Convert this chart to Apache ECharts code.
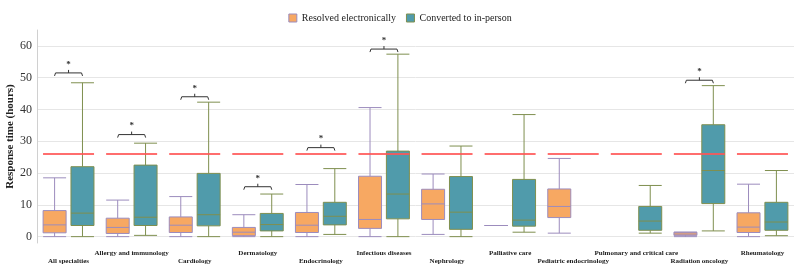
<!DOCTYPE html>
<html>
<head>
<meta charset="utf-8">
<script src="https://cdn.jsdelivr.net/npm/echarts@6/dist/echarts.min.js"></script>
<style>
  html, body { margin: 0; padding: 0; background: #fff; }
  #chart { width: 800px; height: 275px; }
</style>
</head>
<body>
<div id="chart"></div>
<script>
const categories = [
  "All specialties", "Allergy and immunology", "Cardiology", "Dermatology",
  "Endocrinology", "Infectious diseases", "Nephrology", "Palliative care",
  "Pediatric endocrinology", "Pulmonary and critical care", "Radiation oncology", "Rheumatology"
];

// [min, Q1, median, Q3, max] in hours
const resolvedElectronically = [
  [0, 1.2, 3.7, 8.2, 18.5],
  [0, 1.0, 2.9, 5.8, 11.5],
  [0, 1.3, 3.6, 6.2, 12.6],
  [0, 0.3, 1.4, 2.9, 6.9],
  [0, 1.3, 3.6, 7.6, 16.4],
  [0, 2.6, 5.4, 19.0, 40.6],
  [0.7, 5.4, 10.3, 14.9, 19.7],
  [3.5, 3.5, 3.5, 3.5, 3.5],
  [1.1, 6.0, 9.5, 15.0, 24.6],
  null,
  [0, 0.4, 0.8, 1.4, 1.4],
  [0, 1.3, 3.0, 7.5, 16.5]
];

const convertedInPerson = [
  [0, 3.5, 7.4, 22.0, 48.4],
  [0.4, 3.5, 6.1, 22.5, 29.4],
  [0, 3.4, 6.9, 19.9, 42.3],
  [0, 1.8, 3.8, 7.3, 13.4],
  [0.7, 3.7, 6.4, 10.8, 21.4],
  [0, 5.6, 13.4, 26.9, 57.4],
  [0, 2.3, 7.7, 18.9, 28.5],
  [1.4, 3.3, 5.2, 18.0, 38.4],
  null,
  [1.1, 2.0, 4.9, 9.5, 16.1],
  [1.8, 10.4, 20.8, 35.2, 47.5],
  [0.3, 2.0, 4.6, 10.8, 20.8]
];

const benchmarkHours = 26;

// categories with a significant difference, and height of the bracket
const sigCategories = [0, 1, 2, 3, 4, 5, 10];
const sigBracketY = [51.5, 32.1, 44, 15.7, 28, 59, 49.2];

const serif = "'Liberation Serif', 'Times New Roman', serif";

const orangeStyle = { color: "#f7a862", borderColor: "#9c8cbd", borderWidth: 1 };
const tealStyle = { color: "#509bab", borderColor: "#7f8f4f", borderWidth: 1 };

const toBox = (arr) => arr.map(d => d ? d : ["-", "-", "-", "-", "-"]);

const chart = echarts.init(document.getElementById("chart"), null, { renderer: "canvas" });

chart.setOption({
  animation: false,
  backgroundColor: "#ffffff",
  legend: {
    top: 8,
    left: "center",
    itemWidth: 8,
    itemHeight: 8,
    itemGap: 10,
    icon: "rect",
    textStyle: { fontFamily: serif, fontSize: 10, color: "#222" },
    data: [
      { name: "Resolved electronically", itemStyle: orangeStyle },
      { name: "Converted to in-person", itemStyle: tealStyle }
    ]
  },
  grid: { left: 37, right: 6, top: 30, bottom: 32, outerBoundsMode: "none", containLabel: false },
  xAxis: {
    type: "category",
    data: categories,
    axisLine: { show: false },
    axisTick: { show: false },
    splitLine: { show: false },
    axisLabel: {
      interval: 0,
      margin: 7,
      formatter: (val, idx) => (idx % 2 === 0 ? "{low|" + val + "}" : "{high|" + val + "}"),
      rich: {
        high: { fontFamily: serif, fontSize: 7, fontWeight: "bold", color: "#222" },
        low: { fontFamily: serif, fontSize: 7, fontWeight: "bold", color: "#222", padding: [8, 0, 0, 0] }
      }
    }
  },
  yAxis: {
    type: "value",
    min: -2,
    max: 65,
    minInterval: 10,
    maxInterval: 10,
    name: "Response time (hours)",
    nameLocation: "middle",
    nameGap: 21,
    nameMoveOverlap: false,
    nameTextStyle: { fontFamily: serif, fontSize: 11, fontWeight: "bold", color: "#222" },
    axisLine: { show: true, lineStyle: { color: "#d0d0d0" } },
    axisTick: { show: false },
    axisLabel: { fontFamily: serif, fontSize: 12, color: "#333", margin: 5, showMinLabel: false, showMaxLabel: false },
    splitLine: { show: true, showMinLine: false, showMaxLine: false, lineStyle: { color: "#e6e6e6" } }
  },
  series: [
    {
      name: "Resolved electronically",
      type: "boxplot",
      boxWidth: [23, 23],
      itemStyle: orangeStyle,
      emphasis: { disabled: true },
      data: toBox(resolvedElectronically)
    },
    {
      name: "Converted to in-person",
      type: "boxplot",
      boxWidth: [23, 23],
      itemStyle: tealStyle,
      emphasis: { disabled: true },
      data: toBox(convertedInPerson)
    },
    {
      name: "benchmark",
      type: "custom",
      silent: true,
      z: 5,
      data: categories.map((c, i) => [i, benchmarkHours]),
      encode: { x: 0, y: 1 },
      renderItem: (params, api) => {
        const p = api.coord([api.value(0), api.value(1)]);
        const half = 25.5;
        return {
          type: "line",
          shape: { x1: p[0] - half, y1: p[1], x2: p[0] + half, y2: p[1] },
          style: { stroke: "rgba(255, 85, 85, 0.85)", lineWidth: 2 }
        };
      }
    },
    {
      name: "significance",
      type: "custom",
      silent: true,
      z: 6,
      data: sigCategories.map((c, i) => [c, sigBracketY[i]]),
      encode: { x: 0, y: 1 },
      renderItem: (params, api) => {
        const p = api.coord([api.value(0), api.value(1)]);
        const x = p[0], y = p[1], h = 14;
        return {
          type: "group",
          children: [
            {
              type: "polyline",
              shape: { points: [[x - h, y + 3], [x - h + 1, y], [x + h - 1, y], [x + h, y + 3]] },
              style: { stroke: "#333", lineWidth: 1, fill: null }
            },
            {
              type: "line",
              shape: { x1: x, y1: y, x2: x, y2: y - 3 },
              style: { stroke: "#333", lineWidth: 1 }
            },
            {
              type: "text",
              style: {
                text: "*", x: x, y: y - 4, align: "center", verticalAlign: "bottom",
                fontFamily: serif, fontSize: 9, fontWeight: "bold", fill: "#333"
              }
            }
          ]
        };
      }
    }
  ]
});
</script>
</body>
</html>
